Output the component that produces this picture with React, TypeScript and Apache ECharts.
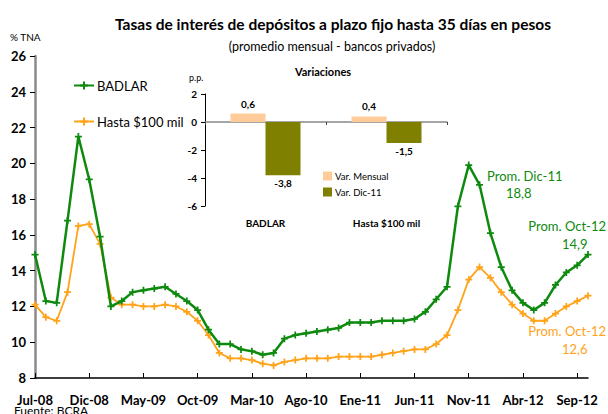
import React, { useEffect, useRef } from "react";
import * as echarts from "echarts";

const months: string[] = [
  "Jul-08","Ago-08","Sep-08","Oct-08","Nov-08","Dic-08",
  "Ene-09","Feb-09","Mar-09","Abr-09","May-09","Jun-09","Jul-09","Ago-09","Sep-09","Oct-09","Nov-09","Dic-09",
  "Ene-10","Feb-10","Mar-10","Abr-10","May-10","Jun-10","Jul-10","Ago-10","Sep-10","Oct-10","Nov-10","Dic-10",
  "Ene-11","Feb-11","Mar-11","Abr-11","May-11","Jun-11","Jul-11","Ago-11","Sep-11","Oct-11","Nov-11","Dic-11",
  "Ene-12","Feb-12","Mar-12","Abr-12","May-12","Jun-12","Jul-12","Ago-12","Sep-12","Oct-12",
];

const badlar: number[] = [
  14.9, 12.3, 12.2, 16.8, 21.5, 19.1,
  15.9, 12.0, 12.3, 12.8, 12.9, 13.0, 13.1, 12.7, 12.3, 11.8, 10.7, 9.9,
  9.9, 9.6, 9.5, 9.3, 9.4, 10.2, 10.4, 10.5, 10.6, 10.7, 10.8, 11.1,
  11.1, 11.1, 11.2, 11.2, 11.2, 11.3, 11.7, 12.4, 13.1, 17.6, 19.9, 18.8,
  16.1, 14.2, 12.9, 12.2, 11.8, 12.2, 13.2, 13.9, 14.3, 14.9,
];

const hasta100: number[] = [
  12.1, 11.4, 11.2, 12.8, 16.5, 16.6,
  15.5, 12.5, 12.1, 12.1, 12.0, 12.0, 12.1, 12.0, 11.7, 11.2, 10.4, 9.4,
  9.1, 9.1, 9.0, 8.8, 8.7, 8.9, 9.0, 9.1, 9.1, 9.1, 9.2, 9.2,
  9.2, 9.2, 9.3, 9.4, 9.5, 9.6, 9.6, 9.9, 10.4, 11.8, 13.5, 14.2,
  13.6, 12.8, 12.1, 11.6, 11.2, 11.2, 11.6, 12.0, 12.3, 12.6,
];

const insetCategories: string[] = ["BADLAR", "Hasta $100 mil"];
const varMensual: number[] = [0.6, 0.4];
const varDic11: number[] = [-3.8, -1.5];

const FONT = "Lato, 'Open Sans', sans-serif";
const GREEN = "#0E8A0E";
const ORANGE = "#FFA31A";
const PLUS = "path://M3,0H5V3H8V5H5V8H3V5H0V3H3Z";

const fmt = (v: number) => v.toFixed(1).replace(".", ",");

export default function App() {
  const ref = useRef<HTMLDivElement>(null);

  useEffect(() => {
    if (!ref.current) return;
    const chart = echarts.init(ref.current, undefined, { renderer: "svg" });
    const option: any = {
      animation: false,
      backgroundColor: "#ffffff",
      textStyle: { fontFamily: FONT },
      title: [
        {
          text: "Tasas de interés de depósitos a plazo fijo hasta 35 días en pesos",
          left: 328,
          top: 11,
          textAlign: "center",
          textStyle: { fontFamily: FONT, fontSize: 15.5, fontWeight: "bold", color: "#000" },
        },
        {
          text: "(promedio mensual - bancos privados)",
          left: 327,
          top: 35,
          textAlign: "center",
          textStyle: { fontFamily: FONT, fontSize: 12.5, fontWeight: "normal", color: "#000" },
        },
        {
          text: "Variaciones",
          left: 318,
          top: 61,
          textAlign: "center",
          textStyle: { fontFamily: FONT, fontSize: 11, fontWeight: "bold", color: "#000" },
        },
      ],
      legend: [
        {
          data: ["BADLAR", "Hasta $100 mil"],
          orient: "vertical",
          left: 68,
          top: 74,
          itemWidth: 20,
          itemHeight: 10,
          itemGap: 23,
          textStyle: { fontFamily: FONT, fontSize: 13, color: "#000", padding: [0, 0, 0, -2] },
        },
        {
          data: ["Var. Mensual", "Var. Dic-11"],
          orient: "vertical",
          left: 318,
          top: 166,
          itemWidth: 9,
          itemHeight: 9,
          itemGap: 6,
          icon: "rect",
          textStyle: { fontFamily: FONT, fontSize: 9.5, color: "#000", padding: [0, 0, 0, -2] },
        },
      ],
      grid: [
        { left: 35, top: 56, width: 553, height: 322, containLabel: false },
        { left: 205, top: 94, width: 242, height: 112, containLabel: false },
      ],
      xAxis: [
        {
          gridIndex: 0,
          type: "category",
          data: months,
          boundaryGap: false,
          axisLine: { lineStyle: { color: "#000", width: 1.5 } },
          axisTick: { show: true, inside: true, length: 5, interval: 4, lineStyle: { color: "#000", width: 1 } },
          axisLabel: {
            interval: 4,
            margin: 15,
            fontFamily: FONT,
            fontSize: 13,
            fontWeight: "bold",
            color: "#000",
          },
          splitLine: { show: false },
        },
        {
          gridIndex: 1,
          type: "category",
          data: insetCategories,
          position: "bottom",
          axisLine: { onZero: true, lineStyle: { color: "#888", width: 1.5 } },
          axisTick: { show: true, length: 3, lineStyle: { color: "#444" } },
          axisLabel: { show: false },
          splitLine: { show: false },
        },
        {
          gridIndex: 1,
          type: "category",
          data: insetCategories,
          position: "bottom",
          axisLine: { show: false, onZero: false },
          axisTick: { show: false },
          axisLabel: { show: true, margin: 12, fontFamily: FONT, fontSize: 10, fontWeight: "bold", color: "#000" },
          splitLine: { show: false },
        },
      ],
      yAxis: [
        {
          gridIndex: 0,
          type: "value",
          min: 8,
          max: 26,
          interval: 2,
          name: "% TNA",
          nameLocation: "end",
          nameGap: 14,
          nameTextStyle: { fontFamily: FONT, fontSize: 10, color: "#000", align: "left", padding: [0, 0, 0, -25] },
          axisLine: { show: true, lineStyle: { color: "#8a8a8a", width: 2.5 } },
          axisTick: { show: true, length: 5, lineStyle: { color: "#000", width: 1 } },
          axisLabel: { margin: 9, fontFamily: FONT, fontSize: 13, fontWeight: "bold", color: "#000" },
          splitLine: { show: false },
        },
        {
          gridIndex: 1,
          type: "value",
          min: -6,
          max: 2,
          interval: 2,
          name: "p.p.",
          nameLocation: "end",
          nameGap: 12,
          nameTextStyle: { fontFamily: FONT, fontSize: 9, color: "#000", align: "left", padding: [0, 0, 0, -16] },
          axisLine: { show: true, lineStyle: { color: "#000", width: 1 } },
          axisTick: { show: true, length: 4, lineStyle: { color: "#000" } },
          axisLabel: { margin: 8, fontFamily: FONT, fontSize: 10, fontWeight: "bold", color: "#000" },
          splitLine: { show: false },
        },
      ],
      series: [
        {
          name: "BADLAR",
          type: "line",
          xAxisIndex: 0,
          yAxisIndex: 0,
          data: badlar,
          symbol: PLUS,
          symbolSize: 7,
          showSymbol: true,
          lineStyle: { color: GREEN, width: 2.5 },
          itemStyle: { color: GREEN },
          z: 3,
        },
        {
          name: "Hasta $100 mil",
          type: "line",
          xAxisIndex: 0,
          yAxisIndex: 0,
          data: hasta100,
          symbol: PLUS,
          symbolSize: 7,
          showSymbol: true,
          lineStyle: { color: ORANGE, width: 1.8 },
          itemStyle: { color: ORANGE },
          z: 2,
        },
        {
          name: "Var. Mensual",
          type: "bar",
          xAxisIndex: 1,
          yAxisIndex: 1,
          data: varMensual,
          barWidth: 35,
          barGap: "0%",
          itemStyle: { color: "#FFCC99" },
          label: {
            show: true,
            position: "top",
            distance: 5,
            formatter: (p: any) => fmt(p.value),
            fontFamily: FONT,
            fontSize: 10,
            fontWeight: "bold",
            color: "#000",
          },
        },
        {
          name: "Var. Dic-11",
          type: "bar",
          xAxisIndex: 1,
          yAxisIndex: 1,
          data: varDic11,
          barWidth: 35,
          barGap: "0%",
          itemStyle: { color: "#808000" },
          label: {
            show: true,
            position: "bottom",
            distance: 3,
            formatter: (p: any) => fmt(p.value),
            fontFamily: FONT,
            fontSize: 10,
            fontWeight: "bold",
            color: "#000",
          },
        },
      ],
      graphic: [
        {
          type: "text",
          left: 487,
          top: 169,
          style: { text: "Prom. Dic-11", fill: GREEN, font: `13px ${FONT}` },
        },
        {
          type: "text",
          left: 506,
          top: 186,
          style: { text: "18,8", fill: GREEN, font: `13px ${FONT}` },
        },
        {
          type: "text",
          right: 2,
          top: 219,
          style: { text: "Prom. Oct-12", fill: GREEN, font: `13px ${FONT}` },
        },
        {
          type: "text",
          left: 562,
          top: 237,
          style: { text: "14,9", fill: GREEN, font: `13px ${FONT}` },
        },
        {
          type: "text",
          right: 2,
          top: 324,
          style: { text: "Prom. Oct-12", fill: ORANGE, font: `13px ${FONT}` },
        },
        {
          type: "text",
          left: 562,
          top: 342,
          style: { text: "12,6", fill: ORANGE, font: `13px ${FONT}` },
        },
        {
          type: "text",
          left: 14,
          top: 404,
          style: { text: "Fuente: BCRA", fill: "#000", font: `12px ${FONT}` },
        },
      ],
    };
    chart.setOption(option);
    return () => chart.dispose();
  }, []);

  return (
    <div
      ref={ref}
      style={{ position: "fixed", left: 0, top: 0, width: 608, height: 414 }}
    />
  );
}
